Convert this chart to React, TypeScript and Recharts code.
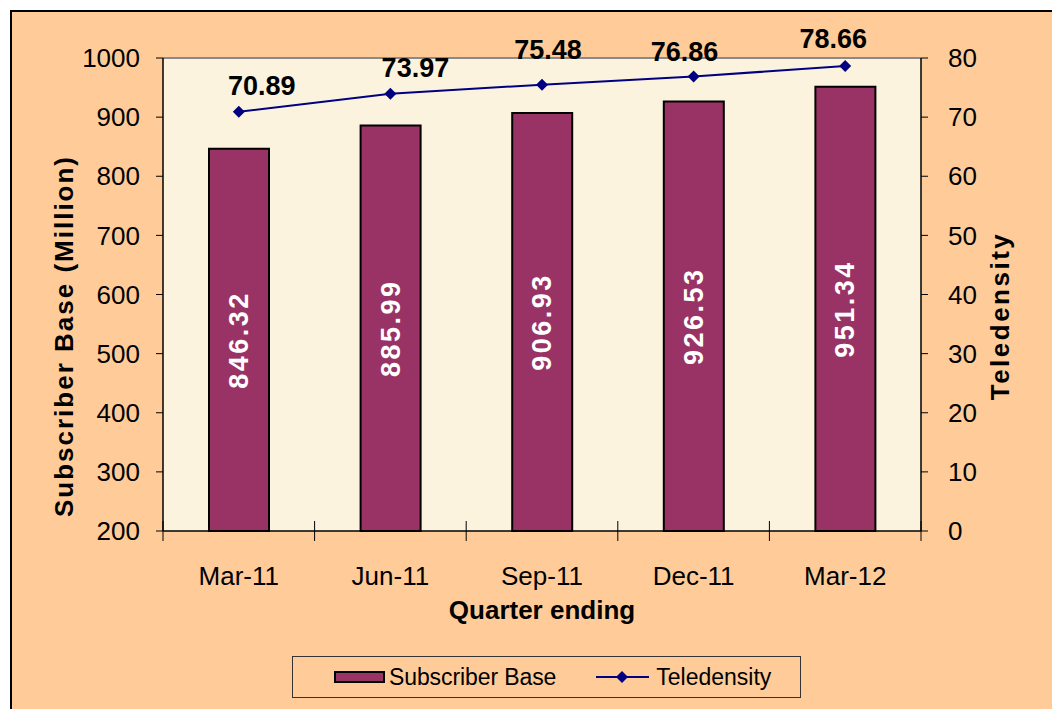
import {
  ComposedChart,
  Bar,
  Line,
  XAxis,
  YAxis,
  CartesianGrid,
  LabelList,
  ReferenceLine,
} from "recharts";

const quarters = ["Mar-11", "Jun-11", "Sep-11", "Dec-11", "Mar-12"];
const subscriberBase = [846.32, 885.99, 906.93, 926.53, 951.34];
const teledensity = [70.89, 73.97, 75.48, 76.86, 78.66];
const leftTicks = [200, 300, 400, 500, 600, 700, 800, 900, 1000];
const rightTicks = [0, 10, 20, 30, 40, 50, 60, 70, 80];

const data = quarters.map((q, i) => ({
  quarter: q,
  subscribers: subscriberBase[i],
  teledensity: teledensity[i],
}));

// hand-placed data labels in the original (nudges from the default spot)
const lineLabelDx = [23, 25, 6, -9, -12];
const lineLabelDy = [-26, -26, -35, -25, -27];

const FONT = "'Liberation Sans', Arial, sans-serif";
const BAR = "#993366";
const NAVY = "#000080";
const X_TICK_MARGIN = 36;

const Diamond = (props: any) => {
  const { cx, cy } = props;
  if (cx == null || cy == null) return null;
  const s = 6;
  return (
    <polygon
      points={`${cx},${cy - s} ${cx + s},${cy} ${cx},${cy + s} ${cx - s},${cy}`}
      fill={NAVY}
    />
  );
};

const BarValue = (props: any) => {
  const { x, y, width, height, value } = props;
  const cx = x + width / 2;
  const cy = y + height / 2;
  return (
    <text
      x={cx}
      y={cy}
      transform={`rotate(-90 ${cx} ${cy})`}
      textAnchor="middle"
      dominantBaseline="central"
      fill="#fff"
      fontWeight="bold"
      fontSize={27}
      letterSpacing={2.5}
      fontFamily={FONT}
    >
      {Number(value).toFixed(2)}
    </text>
  );
};

const LineValue = (props: any) => {
  const { x, y, value, index } = props;
  return (
    <text
      x={x + lineLabelDx[index]}
      y={y + lineLabelDy[index]}
      textAnchor="middle"
      dominantBaseline="central"
      fill="#000"
      fontWeight="bold"
      fontSize={27}
      fontFamily={FONT}
    >
      {Number(value).toFixed(2)}
    </text>
  );
};

const XTick = (props: any) => {
  const { x, y, payload, index, visibleTicksCount, width } = props;
  const half = width / (2 * visibleTicksCount);
  const axisY = y - X_TICK_MARGIN;
  return (
    <g>
      <line x1={x - half} x2={x - half} y1={axisY - 10} y2={axisY + 10} stroke="#000" />
      {index === visibleTicksCount - 1 && (
        <line x1={x + half} x2={x + half} y1={axisY - 10} y2={axisY + 10} stroke="#000" />
      )}
      <text
        x={x}
        y={y}
        dy="0.71em"
        textAnchor="middle"
        fill="#000"
        fontSize={26}
        fontFamily={FONT}
      >
        {payload.value}
      </text>
    </g>
  );
};

const LeftTitle = () => (
  <text
    x={53}
    y={325}
    transform="rotate(-90 53 325)"
    textAnchor="middle"
    dominantBaseline="central"
    fontWeight="bold"
    fontSize={26}
    letterSpacing={2}
    fontFamily={FONT}
    fill="#000"
  >
    Subscriber Base (Million)
  </text>
);

const RightTitle = () => (
  <text
    x={989}
    y={305}
    transform="rotate(-90 989 305)"
    textAnchor="middle"
    dominantBaseline="central"
    fontWeight="bold"
    fontSize={26}
    letterSpacing={2.5}
    fontFamily={FONT}
    fill="#000"
  >
    Teledensity
  </text>
);

const BottomTitle = (props: any) => {
  const vb = props.viewBox || {};
  return (
    <text
      x={vb.x + vb.width / 2}
      y={599}
      textAnchor="middle"
      dominantBaseline="central"
      fontWeight="bold"
      fontSize={26}
      fontFamily={FONT}
      fill="#000"
    >
      Quarter ending
    </text>
  );
};

export default function App() {
  return (
    <div
      style={{
        position: "absolute",
        left: 0,
        top: 0,
        width: 1052,
        height: 709,
        background: "#fff",
        overflow: "hidden",
        fontFamily: FONT,
      }}
    >
      <div
        style={{
          position: "absolute",
          left: 10,
          top: 10,
          width: 1042,
          height: 699,
          background: "#FFCC99",
          borderTop: "2px solid #000",
          borderLeft: "2px solid #000",
          boxSizing: "border-box",
        }}
      >
        <div style={{ position: "absolute", left: -1, top: -1 }}>
          <ComposedChart
            width={1042}
            height={699}
            data={data}
            margin={{ top: 47, right: 0, bottom: 89, left: 0 }}
          >
            <CartesianGrid
              yAxisId="left"
              horizontal={false}
              vertical={false}
              fill="#FCF3DE"
              fillOpacity={1}
            />
            <XAxis
              dataKey="quarter"
              height={90}
              interval={0}
              axisLine={{ stroke: "#000", strokeWidth: 1.5 }}
              tickLine={false}
              tickSize={0}
              tickMargin={X_TICK_MARGIN}
              tick={<XTick />}
              label={{ content: BottomTitle }}
            />
            <YAxis
              yAxisId="left"
              width={152}
              domain={[200, 1000]}
              ticks={leftTicks}
              interval={0}
              axisLine={{ stroke: "#000", strokeWidth: 1.5 }}
              tickLine={{ stroke: "#000" }}
              tickSize={7}
              tickMargin={16}
              tick={{ fill: "#000", fontSize: 26, fontFamily: FONT }}
              label={{ content: LeftTitle }}
            />
            <YAxis
              yAxisId="right"
              orientation="right"
              width={132}
              domain={[0, 80]}
              ticks={rightTicks}
              interval={0}
              axisLine={{ stroke: "#000", strokeWidth: 1.5 }}
              tickLine={{ stroke: "#000" }}
              tickSize={7}
              tickMargin={20}
              tick={{ fill: "#000", fontSize: 26, fontFamily: FONT }}
              label={{ content: RightTitle }}
            />
            <ReferenceLine yAxisId="left" y={1000} stroke="#8a8a8a" strokeWidth={2} />
            <Bar
              yAxisId="left"
              dataKey="subscribers"
              barSize={60}
              fill={BAR}
              stroke="#000"
              strokeWidth={2}
              isAnimationActive={false}
            >
              <LabelList dataKey="subscribers" content={BarValue} />
            </Bar>
            <Line
              yAxisId="right"
              dataKey="teledensity"
              stroke={NAVY}
              strokeWidth={2}
              dot={<Diamond />}
              activeDot={false}
              isAnimationActive={false}
            >
              <LabelList dataKey="teledensity" content={LineValue} />
            </Line>
          </ComposedChart>
        </div>
        <div
          style={{
            position: "absolute",
            left: 280,
            top: 644,
            width: 509,
            height: 42,
            border: "1px solid #333",
            boxSizing: "border-box",
            display: "flex",
            alignItems: "center",
            fontSize: 23,
            color: "#000",
          }}
        >
          <div
            style={{
              marginLeft: 41,
              width: 51,
              height: 12,
              background: BAR,
              border: "2px solid #000",
              boxSizing: "border-box",
            }}
          />
          <span style={{ marginLeft: 4, letterSpacing: -0.1 }}>Subscriber Base</span>
          <svg width={53} height={16} style={{ marginLeft: 40 }}>
            <line x1={0} y1={8} x2={53} y2={8} stroke={NAVY} strokeWidth={2} />
            <polygon points="26,2 32,8 26,14 20,8" fill={NAVY} />
          </svg>
          <span style={{ marginLeft: 7 }}>Teledensity</span>
        </div>
      </div>
    </div>
  );
}
